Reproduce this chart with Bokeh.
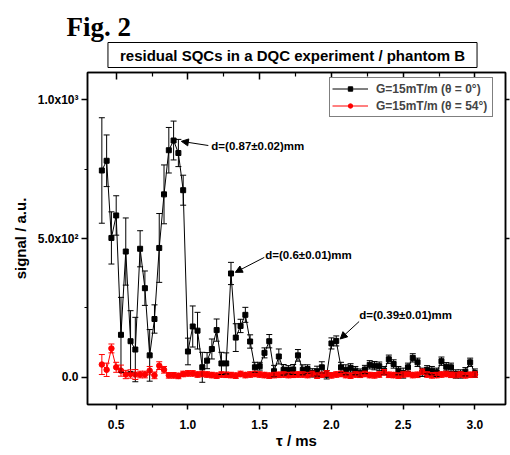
import numpy as np
from bokeh.plotting import figure
from bokeh.layouts import column
from bokeh.models import (ColumnDataSource, Whisker, TeeHead, Label, Arrow,
                          NormalHead, Range1d, LinearAxis, FixedTicker,
                          Legend, LegendItem, NumeralTickFormatter)
from bokeh.embed import file_html
from bokeh.resources import INLINE

# ---------------- data ----------------
tau_ms = np.round(np.linspace(0.4, 3.0, 79), 4)

black_signal = [745, 780, 502, 583, 153, 453, 130, 100, 463, 321, 79, 210, 466, 659, 818,
                853, 808, 674, 93, 183, 168, 36, 60, 102, 170, 50, 50, 374, 143, 185,
                225, 129, 36, 40, 88, 130, 22, 75, 27, 27, 28, 79, 27, 30, 16,
                22, 36, 9, 122, 131, 36, 27, 34, 24, 15, 28, 45, 42, 40, 24,
                65, 48, 24, 15, 36, 70, 54, 18, 27, 24, 18, 58, 38, 36, 12,
                12, 20, 54, 15]
black_err = [190, 93, 94, 71, 135, 121, 110, 116, 65, 62, 93, 51, 124, 106, 82,
             70, 49, 54, 48, 74, 66, 54, 29, 36, 40, 40, 38, 40, 50, 24,
             27, 24, 18, 14, 18, 24, 21, 27, 19, 15, 18, 21, 18, 15, 15,
             18, 20, 15, 20, 18, 18, 18, 15, 15, 15, 15, 15, 15, 15, 15,
             15, 15, 15, 18, 15, 15, 15, 15, 15, 15, 15, 15, 15, 15, 15,
             15, 15, 15, 15]
red_signal = [46, 27, 104, 36, 24, 10, 12, 10, 10, 10, 24, 7, 42, 27, 7,
              7, 5, 12, 14, 14, 10, 12, 10, 8, 6, 10, 9, 8, 6, 12,
              8, 10, 12, 10, 8, 6, 8, 9, 10, 8, 9, 10, 10, 8, 12,
              6, 9, 14, 7, 10, 12, 8, 6, 10, 9, 12, 8, 7, 10, 18,
              9, 8, 6, 10, 12, 8, 9, 20, 10, 7, 8, 10, 12, 9, 8,
              10, 7, 9, 10]
red_err = [36, 24, 16, 18, 20, 15, 15, 18, 12, 12, 15, 12, 14, 12, 10,
           10, 10, 10, 10, 10, 10, 10, 10, 10, 10, 10, 10, 10, 10, 10,
           10, 10, 10, 10, 10, 10, 10, 10, 10, 10, 10, 10, 10, 10, 10,
           10, 10, 10, 10, 10, 10, 10, 10, 10, 10, 10, 10, 10, 10, 10,
           10, 10, 10, 10, 10, 10, 10, 10, 10, 10, 10, 10, 10, 10, 10,
           10, 10, 10, 10]

series_labels = ["G=15mT/m (\u03b8 = 0\u00b0)", "G=15mT/m (\u03b8 = 54\u00b0)"]
x_ticks = [0.5, 1.0, 1.5, 2.0, 2.5, 3.0]
x_minor = [0.75, 1.25, 1.75, 2.25, 2.75]
y_ticks = [0, 500, 1000]
y_minor = [250, 750]
y_tick_labels = {0: "0.0", 500: "5.0x10\u00b2", 1000: "1.0x10\u00b3"}

fig_label = "Fig. 2"
chart_title = "residual SQCs in a DQC experiment / phantom B"

# annotations: (text, text_x, text_y, arrow tail x, y, arrow tip x, y)
annotations = [
    ("d=(0.87\u00b10.02)mm", 1.163, 835, 1.142, 835, 0.954, 850),
    ("d=(0.6\u00b10.01)mm", 1.539, 439, 1.532, 432, 1.330, 378),
    ("d=(0.39\u00b10.01)mm", 2.193, 226, 2.193, 201, 2.061, 138),
]

FONT = "Liberation Sans"
W = 510
HEAD_H = 70

# ---------------- header (figure label + boxed title) ----------------
head = figure(width=W, height=HEAD_H, output_backend="svg", toolbar_location=None,
              x_range=Range1d(0, W), y_range=Range1d(0, HEAD_H),
              x_axis_type=None, y_axis_type=None, min_border=0)
head.frame_align = False
head.outline_line_color = None
head.xgrid.visible = False
head.ygrid.visible = False
head.add_layout(Label(x=66, y=HEAD_H - 26, text=fig_label,
                      text_font="Liberation Serif", text_font_style="bold",
                      text_font_size="27px", text_baseline="alphabetic",
                      text_align="left", text_color="black"))
head.add_layout(Label(x=292, y=HEAD_H - 54.5, text=chart_title,
                      text_font=FONT, text_font_style="bold", text_font_size="15px",
                      text_baseline="middle", text_align="center", text_color="black",
                      border_line_color="black", border_line_width=1,
                      background_fill_color="white",
                      padding=dict(left=12, right=12, top=4, bottom=4)))

# ---------------- main plot ----------------
p = figure(width=W, height=455 - HEAD_H, output_backend="svg", toolbar_location=None,
           x_range=Range1d(0.3, 3.213), y_range=Range1d(-98, 1098),
           min_border_left=87, min_border_right=5, min_border_top=2,
           min_border_bottom=51)
p.frame_align = False
p.xgrid.visible = False
p.ygrid.visible = False
p.outline_line_color = "black"
p.outline_line_width = 1.5
p.background_fill_color = "white"
p.border_fill_color = "white"

def style_axis(ax):
    ax.axis_line_color = "black"
    ax.axis_line_width = 1.5
    ax.major_tick_line_color = "black"
    ax.minor_tick_line_color = "black"
    ax.major_tick_line_width = 1.5
    ax.minor_tick_line_width = 1.2
    ax.major_label_text_font = FONT
    ax.major_label_text_font_style = "bold"
    ax.major_label_text_font_size = "12px"
    ax.major_label_text_color = "black"
    ax.axis_label_text_font = FONT
    ax.axis_label_text_font_style = "bold"
    ax.axis_label_text_font_size = "15px"
    ax.axis_label_text_color = "black"

def hide_labels(ax, ticks):
    ax.major_label_overrides = {t: "" for t in ticks}
    ax.major_label_text_color = None
    ax.major_label_text_font_size = "1px"
    ax.major_label_standoff = 0

xax = p.xaxis[0]
xax.ticker = FixedTicker(ticks=x_ticks, minor_ticks=x_minor)
xax.formatter = NumeralTickFormatter(format="0.0")
style_axis(xax)
xax.major_tick_out = 5
xax.major_tick_in = 0
xax.minor_tick_out = 3
xax.minor_tick_in = 0
xax.major_label_standoff = 10
xax.axis_label = "\u03c4 / ms"
xax.axis_label_standoff = 0

yax = p.yaxis[0]
yax.ticker = FixedTicker(ticks=y_ticks, minor_ticks=y_minor)
style_axis(yax)
yax.major_tick_out = 6
yax.major_tick_in = 0
yax.minor_tick_out = 3
yax.minor_tick_in = 0
yax.major_label_standoff = 3
yax.major_label_overrides = y_tick_labels
yax.axis_label = "signal / a.u."
yax.axis_label_standoff = 6

top = LinearAxis(ticker=FixedTicker(ticks=x_ticks, minor_ticks=x_minor))
style_axis(top)
top.major_tick_in = 7
top.major_tick_out = 0
top.minor_tick_in = 4
top.minor_tick_out = 0
hide_labels(top, x_ticks)
p.add_layout(top, "above")

right = LinearAxis(ticker=FixedTicker(ticks=y_ticks, minor_ticks=[]))
style_axis(right)
right.major_tick_out = 4
right.major_tick_in = 0
hide_labels(right, y_ticks)
p.add_layout(right, "right")

# ---------------- data marks ----------------
bsrc = ColumnDataSource(dict(x=tau_ms, y=black_signal,
                             upper=np.array(black_signal) + np.array(black_err),
                             lower=np.array(black_signal) - np.array(black_err)))
rsrc = ColumnDataSource(dict(x=tau_ms, y=red_signal,
                             upper=np.array(red_signal) + np.array(red_err),
                             lower=np.array(red_signal) - np.array(red_err)))

def whisker(src, color):
    w = Whisker(source=src, base="x", upper="upper", lower="lower",
                dimension="height", line_color=color, line_width=1,
                upper_head=TeeHead(size=6, line_color=color, line_width=1),
                lower_head=TeeHead(size=6, line_color=color, line_width=1))
    w.level = "glyph"
    return w

p.add_layout(whisker(bsrc, "black"))
bl = p.line("x", "y", source=bsrc, line_color="black", line_width=1)
bm = p.scatter("x", "y", source=bsrc, marker="square", size=5,
               fill_color="black", line_color="black")
p.add_layout(whisker(rsrc, "#ff0000"))
rl = p.line("x", "y", source=rsrc, line_color="#ff0000", line_width=1)
rm = p.scatter("x", "y", source=rsrc, marker="circle", size=5.5,
               fill_color="#ff0000", line_color="#ff0000")

legend = Legend(items=[LegendItem(label=series_labels[0], renderers=[bl, bm]),
                       LegendItem(label=series_labels[1], renderers=[rl, rm])],
                location=(242, 287))
legend.border_line_color = "black"
legend.border_line_width = 1
legend.background_fill_color = "white"
legend.background_fill_alpha = 1
legend.label_text_font = FONT
legend.label_text_font_style = "bold"
legend.label_text_font_size = "12px"
legend.glyph_width = 36
legend.glyph_height = 11
legend.label_height = 17
legend.label_width = 114
legend.label_standoff = 8
legend.padding = 2
legend.spacing = 0
legend.margin = 0
p.add_layout(legend)

for txt, tx, ty, ax0, ay0, ax1, ay1 in annotations:
    p.add_layout(Arrow(x_start=ax0, y_start=ay0, x_end=ax1, y_end=ay1,
                       line_color="black", line_width=1,
                       end=NormalHead(size=7, fill_color="black", line_color="black")))
    p.add_layout(Label(x=tx, y=ty, text=txt, text_font=FONT, text_font_style="bold",
                       text_font_size="11.5px", text_baseline="middle",
                       text_align="left", text_color="black"))

layout = column(head, p, spacing=0)
open("out.html", "w").write(file_html(layout, INLINE))
